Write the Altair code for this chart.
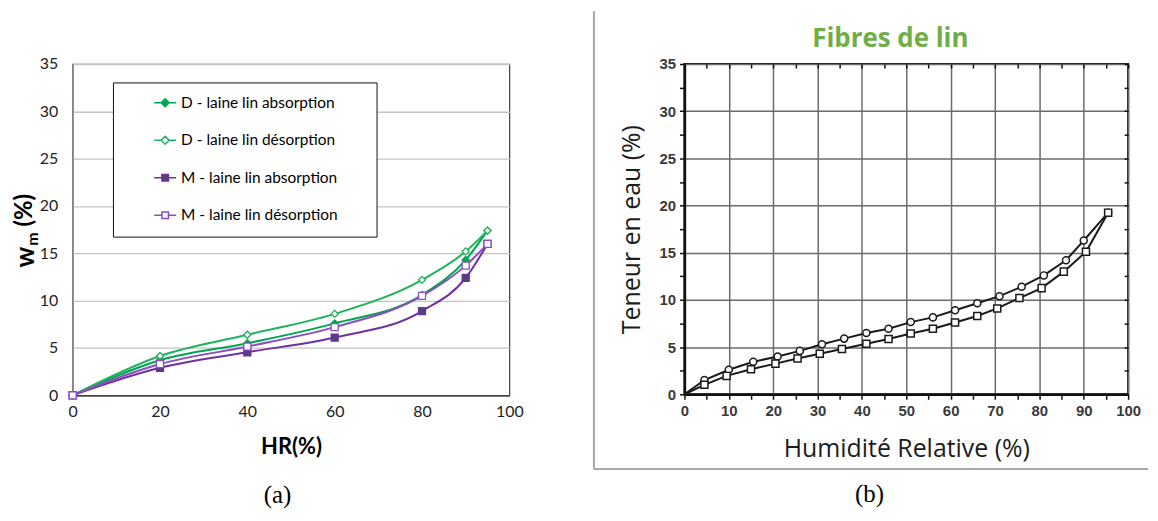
import altair as alt
import pandas as pd
import numpy as np

# ---------------- Panel (a) data ----------------
hr_a = [0, 20, 40, 60, 80, 90, 95]
d_abs = [0, 3.7, 5.5, 7.6, 10.6, 14.3, 17.4]
d_des = [0, 4.15, 6.4, 8.6, 12.2, 15.2, 17.4]
m_abs = [0, 2.9, 4.55, 6.1, 8.9, 12.4, 16.0]
m_des = [0, 3.3, 5.15, 7.2, 10.5, 13.7, 16.0]
series_a = ["D - laine lin absorption", "D - laine lin désorption",
            "M - laine lin absorption", "M - laine lin désorption"]
line_colors_a = ["#00A650", "#1DB35B", "#7030A0", "#8A4DC2"]
marker_fill_a = ["#00A650", "#FFFFFF", "#54407A", "#FFFFFF"]
marker_shape_a = ["diamond", "diamond", "square", "square"]

# ---------------- Panel (b) data ----------------
hr_b_sup = [0, 4.5, 10, 15.5, 21, 26, 31, 36, 41, 46, 51, 56, 61, 66, 71, 76, 81, 86, 90, 95.5]
w_b_sup = [0, 1.5, 2.6, 3.45, 4.0, 4.6, 5.3, 5.9, 6.5, 6.95, 7.65, 8.15, 8.9, 9.65, 10.4, 11.4, 12.6, 14.2, 16.3, 19.25]
hr_b_inf = [0, 4.5, 9.5, 15, 20.5, 25.5, 30.5, 35.5, 41, 46, 51, 56, 61, 66, 70.5, 75.5, 80.5, 85.5, 90.5, 95.5]
w_b_inf = [0, 1.0, 1.95, 2.65, 3.25, 3.8, 4.3, 4.8, 5.35, 5.85, 6.45, 6.95, 7.6, 8.3, 9.1, 10.2, 11.25, 13.0, 15.1, 19.25]
series_b = ["désorption", "absorption"]

rows_a = []
for name, vals in zip(series_a, [d_abs, d_des, m_abs, m_des]):
    for h, w in zip(hr_a, vals):
        rows_a.append({"series": name, "hr": h, "w": w})
df_a = pd.DataFrame(rows_a)

rows_b = []
for name, xs, ys in zip(series_b, [hr_b_sup, hr_b_inf], [w_b_sup, w_b_inf]):
    for h, w in zip(xs, ys):
        rows_b.append({"series": name, "hr": h, "w": w})
df_b = pd.DataFrame(rows_b)

one = alt.Data(values=[{}])

# ---------------- Panel (a) ----------------
W_A, H_A = 439, 333
xs_a = alt.Scale(domain=[0, 100], nice=False)
ys_a = alt.Scale(domain=[0, 35], nice=False)

x_a = alt.X("hr:Q", scale=xs_a, axis=alt.Axis(
    values=list(range(0, 101, 20)), title="HR(%)", titleFont="Lato", titleFontSize=22,
    titleFontWeight="bold", titleColor="#000", titlePadding=18, labelFont="Lato",
    labelFontSize=16, labelColor="#222", labelPadding=8, ticks=False, tickSize=0,
    domainColor="#222", domainWidth=1.2, grid=False, labelFlush=False))
y_a = alt.Y("w:Q", scale=ys_a, axis=alt.Axis(
    values=list(range(0, 36, 5)), title=None, labelFont="Lato", labelFontSize=16,
    labelColor="#222", labelPadding=15, ticks=False, tickSize=0, domainColor="#8c8c8c",
    domainWidth=1.2, grid=True, gridColor="#c4c4c4", gridWidth=1.3))

legend_box = alt.Chart(one).mark_rect(fill="#FFFFFF", stroke="#111", strokeWidth=1).encode(
    x=alt.value(41), x2=alt.value(306), y=alt.value(19), y2=alt.value(174))

lines_a = alt.Chart(df_a).mark_line(interpolate="monotone", strokeWidth=2).encode(
    x=x_a, y=y_a,
    color=alt.Color("series:N", scale=alt.Scale(domain=series_a, range=line_colors_a), legend=None))

points_a = alt.Chart(df_a).mark_point(filled=True, opacity=1, strokeWidth=1.3).encode(
    x=alt.X("hr:Q", scale=xs_a), y=alt.Y("w:Q", scale=ys_a),
    shape=alt.Shape("series:N", scale=alt.Scale(domain=series_a, range=marker_shape_a), legend=None),
    stroke=alt.Stroke("series:N", scale=alt.Scale(domain=series_a, range=line_colors_a), legend=None),
    fill=alt.Fill("series:N", scale=alt.Scale(domain=series_a, range=marker_fill_a), legend=None),
    size=alt.value(50))

path_diamond = "M-1,0L-0.36,0M0.36,0L1,0M0,-0.36L0.36,0L0,0.36L-0.36,0Z"
path_square = "M-1,0L-0.3,0M0.3,0L1,0M-0.3,-0.3L0.3,-0.3L0.3,0.3L-0.3,0.3Z"
leg = alt.Legend(title=None, orient="none", legendX=81, legendY=27, symbolSize=484,
                 symbolStrokeWidth=1.5, labelFont="Lato", labelFontSize=15.5,
                 labelColor="#000", labelOffset=4, rowPadding=16.7, padding=0,
                 symbolOpacity=1, labelLimit=300)
legend_layer = alt.Chart(df_a).transform_filter("false").mark_point(filled=True, opacity=1).encode(
    x=alt.X("hr:Q", scale=xs_a), y=alt.Y("w:Q", scale=ys_a),
    shape=alt.Shape("series:N", scale=alt.Scale(domain=series_a,
                    range=[path_diamond, path_diamond, path_square, path_square]), legend=leg),
    stroke=alt.Stroke("series:N", scale=alt.Scale(domain=series_a, range=line_colors_a), legend=leg),
    fill=alt.Fill("series:N", scale=alt.Scale(domain=series_a, range=marker_fill_a), legend=leg))

t_w = alt.Chart(one).mark_text(text="w", angle=270, font="Lato", fontSize=26, fontWeight="bold",
                               color="#000", align="center", baseline="middle").encode(
    x=alt.value(-47), y=alt.value(194))
t_m = alt.Chart(one).mark_text(text="m", angle=270, font="Lato", fontSize=16, fontWeight="bold",
                               color="#000", align="center", baseline="middle").encode(
    x=alt.value(-40), y=alt.value(176))
t_p = alt.Chart(one).mark_text(text="(%)", angle=270, font="Lato", fontSize=24, fontWeight="bold",
                               color="#000", align="center", baseline="middle").encode(
    x=alt.value(-48), y=alt.value(147))
cap_a = alt.Chart(one).mark_text(text="(a)", font="Liberation Serif", fontSize=25, color="#000",
                                 align="center", baseline="middle").encode(
    x=alt.value(206), y=alt.value(433))

left = alt.layer(legend_box, lines_a, points_a, legend_layer, t_w, t_m, t_p, cap_a).resolve_scale(
    shape="independent", fill="independent", stroke="independent").properties(
    width=W_A, height=H_A, view=alt.ViewBackground(stroke="#404040", strokeWidth=1.2))

# ---------------- Panel (b) ----------------
W_B, H_B = 446, 332
xs_b = alt.Scale(domain=[0, 100], nice=False)
ys_b = alt.Scale(domain=[0, 35], nice=False)
x_minor = [float(v) for v in range(0, 101, 5)]
y_minor = [float(v) for v in np.arange(0, 35.01, 2.5)]

x_b = alt.X("hr:Q", scale=xs_b, axis=alt.Axis(
    orient="bottom", values=x_minor,
    labelExpr="datum.value % 10 === 0 ? datum.label : ''",
    title="Humidité Relative (%)", titleFont="Open Sans", titleFontSize=25,
    titleFontWeight="normal", titleColor="#1c1c1c", titlePadding=19,
    labelFont="Liberation Sans", labelFontWeight="bold", labelFontSize=15, labelColor="#3a3a3a",
    labelPadding=4, tickSize=5, tickWidth=1.5, tickColor="#111", domainColor="#111",
    domainWidth=2.5, grid=True, gridColor="#6b6b6b", gridWidth=1.5,
    gridOpacity={"condition": {"test": "datum.value % 10 === 0", "value": 1}, "value": 0},
    labelFlush=False))
y_b = alt.Y("w:Q", scale=ys_b, axis=alt.Axis(
    orient="left", values=y_minor,
    labelExpr="datum.value % 5 === 0 ? datum.label : ''",
    title="Teneur en eau (%)", titleFont="Open Sans", titleFontSize=25,
    titleFontWeight="normal", titleColor="#1c1c1c", titlePadding=14,
    labelFont="Liberation Sans", labelFontWeight="bold", labelFontSize=15, labelColor="#3a3a3a",
    labelPadding=4, tickSize=5, tickWidth=1.5, tickColor="#111", domainColor="#111",
    domainWidth=2.5, grid=True, gridColor="#6b6b6b", gridWidth=1.5,
    gridOpacity={"condition": {"test": "datum.value % 5 === 0", "value": 1}, "value": 0}))

frame_v = alt.Chart(one).mark_rule(color="#a8a8a8", strokeWidth=2).encode(
    x=alt.value(-91), y=alt.value(-53), y2=alt.value(407))
frame_h = alt.Chart(one).mark_rule(color="#a8a8a8", strokeWidth=2).encode(
    x=alt.value(-91), x2=alt.value(466), y=alt.value(407))

lines_b = alt.Chart(df_b).mark_line(color="#1a1a1a", strokeWidth=2).encode(
    x=x_b, y=y_b, detail="series:N")

points_b = alt.Chart(df_b).transform_filter("datum.hr > 0").mark_point(
    filled=True, fill="#FFFFFF", stroke="#1a1a1a", strokeWidth=1.5, opacity=1, size=50).encode(
    x=alt.X("hr:Q", scale=xs_b, axis=alt.Axis(
        orient="top", values=x_minor, labels=False, domain=False, grid=False, ticks=True,
        tickSize=4, tickWidth=1.5, tickColor="#111", offset=-4, title=None)),
    y=alt.Y("w:Q", scale=ys_b, axis=alt.Axis(
        orient="right", values=y_minor, labels=False, domain=False, grid=False, ticks=True,
        tickSize=4, tickWidth=1.5, tickColor="#111", offset=-4, title=None)),
    shape=alt.Shape("series:N", scale=alt.Scale(domain=series_b, range=["circle", "square"]),
                    legend=None))

title_b = alt.Chart(one).mark_text(text="Fibres de lin", font="Open Sans", fontSize=26,
                                   fontWeight="bold", color="#70AD47", align="center",
                                   baseline="middle").encode(x=alt.value(207), y=alt.value(-25))
cap_b = alt.Chart(one).mark_text(text="(b)", font="Liberation Serif", fontSize=25, color="#000",
                                 align="center", baseline="middle").encode(
    x=alt.value(186), y=alt.value(432))

right = alt.layer(frame_v, frame_h, lines_b, points_b, title_b, cap_b).properties(
    width=W_B, height=H_B, view=alt.ViewBackground(stroke="#111", strokeWidth=2))

chart = alt.hconcat(left, right, spacing=68).properties(
    padding={"left": 4, "top": 0, "right": 0, "bottom": 0},
    background="#FFFFFF")

chart.save("out.html", embed_options={"renderer": "svg", "actions": False})
